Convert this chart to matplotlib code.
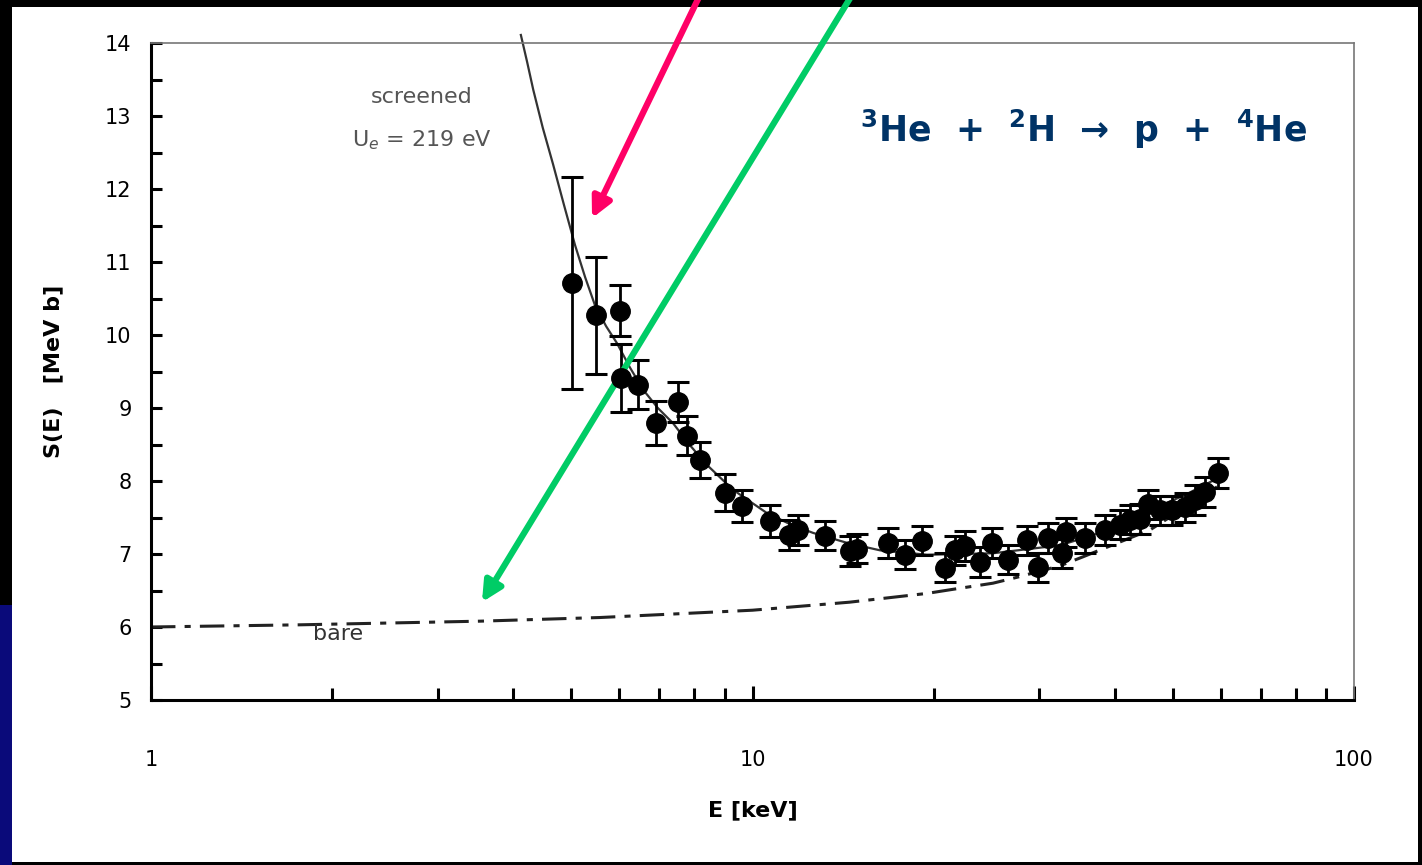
import matplotlib.pyplot as plt
from matplotlib.patches import Rectangle
import numpy as np

# measured S-factor points
E_data = [5.01, 5.49, 6.02, 6.04, 6.45, 6.91, 7.52, 7.78, 8.18, 9.0, 9.6, 10.7, 11.5, 11.9,
          13.2, 14.5, 14.9, 16.8, 17.9, 19.1, 20.9, 21.7, 22.6, 23.9, 25.0, 26.6, 28.6, 29.8,
          31.0, 32.7, 33.2, 35.7, 38.5, 40.8, 42.4, 44.1, 45.5, 47.6, 49.8, 52.4, 54.4, 56.5, 59.4]
S_data = [10.71, 10.27, 10.33, 9.41, 9.32, 8.79, 9.08, 8.62, 8.29, 7.84, 7.66, 7.45, 7.26, 7.33,
          7.25, 7.04, 7.07, 7.15, 6.99, 7.18, 6.81, 7.05, 7.11, 6.89, 7.15, 6.92, 7.19, 6.82,
          7.22, 7.01, 7.30, 7.22, 7.33, 7.40, 7.47, 7.48, 7.68, 7.60, 7.60, 7.64, 7.74, 7.85, 8.11]
S_err = [1.45, 0.80, 0.35, 0.47, 0.34, 0.30, 0.27, 0.27, 0.25, 0.25, 0.22, 0.22, 0.20, 0.20,
         0.20, 0.20, 0.20, 0.20, 0.20, 0.20, 0.20, 0.20, 0.20, 0.20, 0.20, 0.20, 0.20, 0.20,
         0.20, 0.20, 0.20, 0.20, 0.20, 0.20, 0.20, 0.20, 0.20, 0.20, 0.20, 0.20, 0.20, 0.20, 0.20]

# screened curve (Ue = 219 eV)
E_scr = [4.12, 4.22, 4.32, 4.48, 4.66, 4.86, 5.07, 5.27, 5.47, 5.71, 5.95, 6.26, 6.58, 6.96,
         7.38, 7.87, 8.40, 9.28, 10.57, 11.54, 12.6, 14.4, 16.3, 19.5, 25.1, 32.5, 37.8, 45.8,
         52.4, 59.4]
S_scr = [14.11, 13.74, 13.36, 12.84, 12.34, 11.78, 11.23, 10.79, 10.41, 10.12, 9.89, 9.55, 9.25,
         9.00, 8.79, 8.49, 8.22, 7.88, 7.56, 7.41, 7.29, 7.15, 7.05, 6.99, 7.01, 7.12, 7.29, 7.60,
         7.81, 8.04]

# bare nucleus curve
E_bare = [1.0, 1.77, 3.53, 5.58, 10.0, 14.5, 19.5, 21.3, 25.1, 27.5, 32.5, 35.4, 45.8, 59.2]
S_bare = [6.0, 6.03, 6.08, 6.13, 6.23, 6.34, 6.46, 6.51, 6.60, 6.68, 6.84, 6.96, 7.33, 7.92]

fig = plt.figure(figsize=(14.22, 8.65), dpi=100, facecolor='black')
# white slide panel + a bit of the navy background at lower left
fig.patches.append(Rectangle((0, 0), 12/1422, 260/865, transform=fig.transFigure,
                             facecolor='#0a0a7a', edgecolor='none', zorder=-2))
fig.patches.append(Rectangle((12/1422, 3/865), 1406/1422, 855/865, transform=fig.transFigure,
                             facecolor='white', edgecolor='none', zorder=-2))

ax = fig.add_axes([151/1422, 165/865, 1203/1422, 657/865])
ax.set_facecolor('none')
ax.set_xscale('log')
ax.set_xlim(1, 100)
ax.set_ylim(5, 14)

ax.plot(E_scr, S_scr, color='#333333', lw=1.6, clip_on=False, zorder=2)
ax.plot(E_bare, S_bare, color='#222222', lw=2.2, dashes=(8, 3, 2, 3), zorder=2)
ax.errorbar(E_data, S_data, yerr=S_err, fmt='o', color='black', ms=14,
            elinewidth=2, capsize=8, capthick=2.2, zorder=3)

# spines
for s in ['left', 'bottom']:
    ax.spines[s].set_linewidth(2.2)
    ax.spines[s].set_color('black')
for s in ['top', 'right']:
    ax.spines[s].set_linewidth(1.2)
    ax.spines[s].set_color('#777777')

ax.set_yticks(np.arange(5, 15, 1))
ax.set_yticks(np.arange(5.5, 14, 1), minor=True)
ax.set_xticks([1, 10, 100])
ax.set_xticklabels(['1', '10', '100'])
ax.set_xticks([2, 3, 4, 5, 6, 7, 8, 9, 20, 30, 40, 50, 60, 70, 80, 90], minor=True)
ax.xaxis.set_minor_formatter(plt.NullFormatter())
ax.tick_params(axis='y', which='both', direction='in', length=8, width=2.2,
               labelsize=15, pad=14, right=False)
ax.tick_params(axis='x', which='major', direction='in', length=10, width=2.2,
               labelsize=15, pad=36, top=False)
ax.tick_params(axis='x', which='minor', direction='in', length=9, width=2.2, top=False)

ax.set_xlabel('E [keV]', fontsize=16, fontweight='bold', labelpad=22)
ax.set_ylabel('S(E)   [MeV b]', fontsize=16, fontweight='bold', labelpad=30)

ax.text(422, 865 - 97, 'screened', transform=None, fontsize=16, color='#555555',
        ha='center', va='center')
ax.text(422, 865 - 140, r'U$_e$ = 219 eV', transform=None, fontsize=16, color='#555555',
        ha='center', va='center')
ax.text(2.05, 5.9, 'bare', fontsize=16, color='#333333', ha='center', va='center')

ax.text(0.775, 0.868, r'$^{\mathbf{3}}$He  +  $^{\mathbf{2}}$H  →  p  +  $^{\mathbf{4}}$He',
        transform=ax.transAxes, fontsize=25, fontweight='bold', color='#003366',
        ha='center', va='center')

# pointer arrows coming in from above the slide
ax.annotate('', xy=(5.41, 11.6), xycoords='data', xytext=(700, 870),
            textcoords='figure pixels',
            arrowprops=dict(arrowstyle='-|>', color='#ff0066', lw=4.5,
                            mutation_scale=30, shrinkA=0, shrinkB=0), annotation_clip=False)
ax.annotate('', xy=(3.55, 6.34), xycoords='data', xytext=(852, 870),
            textcoords='figure pixels',
            arrowprops=dict(arrowstyle='-|>', color='#00cc66', lw=4.5,
                            mutation_scale=30, shrinkA=0, shrinkB=0), annotation_clip=False)

fig.savefig('out.png', dpi=100, facecolor='black')
